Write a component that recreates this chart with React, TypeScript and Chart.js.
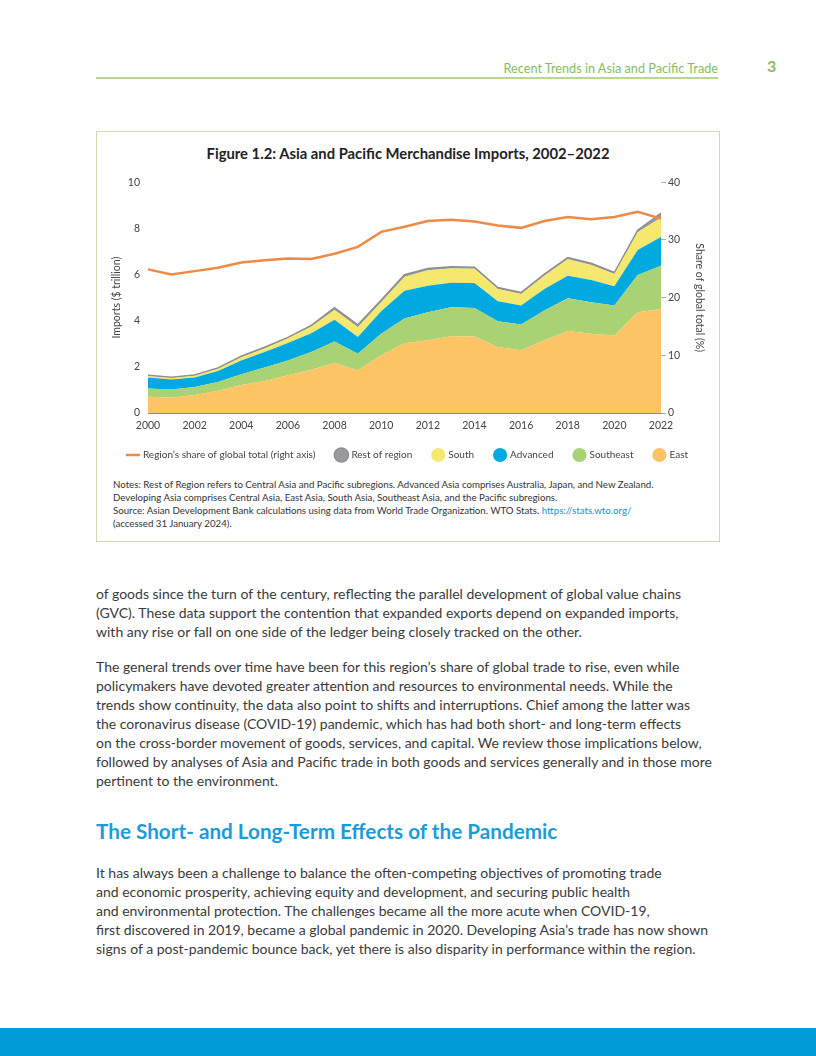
import React, { useEffect, useRef } from "react";
import { Chart, registerables } from "chart.js";

Chart.register(...registerables);

const years = ["2000","2001","2002","2003","2004","2005","2006","2007","2008","2009","2010","2011","2012","2013","2014","2015","2016","2017","2018","2019","2020","2021","2022"];

// $ trillion (stacked components)
const east = [0.70,0.66,0.78,0.96,1.21,1.39,1.64,1.88,2.17,1.85,2.50,3.02,3.15,3.33,3.32,2.86,2.72,3.15,3.55,3.43,3.36,4.37,4.51];
const southeast = [0.36,0.36,0.35,0.38,0.47,0.58,0.64,0.76,0.93,0.72,0.93,1.08,1.22,1.25,1.23,1.12,1.12,1.29,1.42,1.37,1.30,1.61,1.87];
const advanced = [0.48,0.43,0.41,0.48,0.60,0.67,0.75,0.82,0.94,0.72,0.98,1.20,1.15,1.07,1.08,0.86,0.82,0.93,0.98,0.96,0.83,1.09,1.25];
const south = [0.06,0.07,0.08,0.10,0.14,0.16,0.21,0.28,0.43,0.43,0.39,0.60,0.67,0.61,0.62,0.53,0.50,0.58,0.71,0.65,0.53,0.77,0.83];
const restOfRegion = [0.04,0.03,0.03,0.03,0.04,0.05,0.04,0.06,0.09,0.10,0.10,0.10,0.07,0.08,0.07,0.07,0.06,0.07,0.08,0.08,0.07,0.08,0.20];
// % of global total (right axis)
const globalShare = [24.9,24.0,24.6,25.2,26.1,26.5,26.8,26.7,27.6,28.8,31.4,32.3,33.3,33.5,33.2,32.5,32.1,33.3,34.0,33.6,34.0,34.9,33.7];

const leftTicks = [0, 2, 4, 6, 8, 10];
const rightTicks = [0, 10, 20, 30, 40];

const FONT = "Lato, 'Open Sans', sans-serif";

function ImportsChart() {
  const ref = useRef<HTMLCanvasElement | null>(null);
  useEffect(() => {
    if (!ref.current) return;
    const legendRank: Record<number, number> = { 5: 0, 4: 1, 3: 2, 2: 3, 1: 4, 0: 5 };
    const chart = new Chart(ref.current, {
      type: "line",
      data: {
        labels: years,
        datasets: [
          { label: "East", data: east, backgroundColor: "#fcc465", borderWidth: 0, fill: "origin", pointRadius: 0, order: 1, yAxisID: "y", pointStyle: "circle" },
          { label: "Southeast", data: southeast, backgroundColor: "#a9d275", borderWidth: 0, fill: "-1", pointRadius: 0, order: 1, yAxisID: "y", pointStyle: "circle" },
          { label: "Advanced", data: advanced, backgroundColor: "#00a9df", borderWidth: 0, fill: "-1", pointRadius: 0, order: 1, yAxisID: "y", pointStyle: "circle" },
          { label: "South", data: south, backgroundColor: "#f5e86e", borderWidth: 0, fill: "-1", pointRadius: 0, order: 1, yAxisID: "y", pointStyle: "circle" },
          { label: "Rest of region", data: restOfRegion, backgroundColor: "#9a9a9c", borderColor: "#8e8f92", borderWidth: 1.5, fill: "-1", pointRadius: 0, order: 1, yAxisID: "y", pointStyle: "circle" },
          { label: "Region\u2019s share of global total (right axis)", data: globalShare, borderColor: "#ef8a45", backgroundColor: "#ef8a45", borderWidth: 2.5, fill: false, pointRadius: 0, order: 0, yAxisID: "y1", pointStyle: "line" },
        ],
      },
      options: {
        responsive: false,
        animation: false,
        layout: { padding: { top: 13, left: 6, right: 6, bottom: 0 } },
        plugins: {
          tooltip: { enabled: false },
          legend: {
            position: "bottom",
            labels: {
              usePointStyle: true,
              font: { family: FONT, size: 10 },
              color: "#444",
              padding: 21,
              sort: (a: any, b: any) => legendRank[a.datasetIndex] - legendRank[b.datasetIndex],
            },
          },
        },
        scales: {
          x: {
            type: "category",
            offset: false,
            grid: { display: false, drawTicks: false },
            border: { display: true, color: "#8a8a8a", width: 1 },
            ticks: {
              autoSkip: false,
              maxRotation: 0,
              padding: 6,
              color: "#444",
              font: { family: FONT, size: 10.5 },
              callback: (_v: any, i: number) => (i % 2 === 0 ? years[i] : ""),
            },
            afterFit: (s: any) => { s.height = 16; },
          },
          y: {
            type: "linear",
            position: "left",
            stacked: true,
            min: 0,
            max: 10,
            afterBuildTicks: (s: any) => { s.ticks = leftTicks.map((v) => ({ value: v })); },
            grid: { display: false, drawTicks: false },
            border: { display: false },
            ticks: { padding: 8, color: "#444", font: { family: FONT, size: 10.5 } },
            title: { display: true, text: "Imports ($ trillion)", color: "#444", font: { family: FONT, size: 10.5 }, padding: { top: 4, bottom: 4 } },
            afterFit: (s: any) => { s.width = 42; },
          },
          y1: {
            type: "linear",
            position: "right",
            min: 0,
            max: 40,
            afterBuildTicks: (s: any) => { s.ticks = rightTicks.map((v) => ({ value: v })); },
            grid: { display: true, drawOnChartArea: false, drawTicks: true, tickLength: 5, color: "#b0b0b0" },
            border: { display: false },
            ticks: { padding: 2, color: "#444", font: { family: FONT, size: 10.5 } },
            title: { display: true, text: "Share of global total (%)", color: "#444", font: { family: FONT, size: 10.5 }, padding: { top: 4, bottom: 4 } },
            afterFit: (s: any) => { s.width = 49; },
          },
        },
      },
    } as any);
    return () => chart.destroy();
  }, []);
  return <canvas ref={ref} width={616} height={302} style={{ position: "absolute", left: 100, top: 168, width: 616, height: 302 }} />;
}

const para1 = [
  "of goods since the turn of the century, reflecting the parallel development of global value chains",
  "(GVC). These data support the contention that expanded exports depend on expanded imports,",
  "with any rise or fall on one side of the ledger being closely tracked on the other.",
];
const para2 = [
  "The general trends over time have been for this region\u2019s share of global trade to rise, even while",
  "policymakers have devoted greater attention and resources to environmental needs. While the",
  "trends show continuity, the data also point to shifts and interruptions. Chief among the latter was",
  "the coronavirus disease (COVID-19) pandemic, which has had both short- and long-term effects",
  "on the cross-border movement of goods, services, and capital. We review those implications below,",
  "followed by analyses of Asia and Pacific trade in both goods and services generally and in those more",
  "pertinent to the environment.",
];
const para3 = [
  "It has always been a challenge to balance the often-competing objectives of promoting trade",
  "and economic prosperity, achieving equity and development, and securing public health",
  "and environmental protection. The challenges became all the more acute when COVID-19,",
  "first discovered in 2019, became a global pandemic in 2020. Developing Asia\u2019s trade has now shown",
  "signs of a post-pandemic bounce back, yet there is also disparity in performance within the region.",
];

function Para({ lines, top }: { lines: string[]; top: number }) {
  return (
    <div style={{ position: "absolute", left: 96, top, fontSize: 14, lineHeight: "19px", color: "#3a3a3a", whiteSpace: "nowrap" }}>
      {lines.map((l, i) => (<div key={i}>{l}</div>))}
    </div>
  );
}

export default function App() {
  return (
    <div style={{ position: "absolute", left: 0, top: 0, width: 816, height: 1056, background: "#fff", fontFamily: FONT, overflow: "hidden" }}>
      <div style={{ position: "absolute", right: 98, top: 60, fontSize: 12.7, color: "#86bd62", whiteSpace: "nowrap" }}>Recent Trends in Asia and Pacific Trade</div>
      <div style={{ position: "absolute", left: 767, top: 56, fontSize: 16, fontWeight: 700, color: "#86bd62" }}>3</div>
      <div style={{ position: "absolute", left: 96, top: 77, width: 622, height: 2, background: "#b9d698" }} />

      <div style={{ position: "absolute", left: 96, top: 131, width: 622, height: 409, border: "1px solid #c9dfae" }} />
      <div style={{ position: "absolute", left: 96, top: 144, width: 624, textAlign: "center", fontSize: 14.8, fontWeight: 700, color: "#222", whiteSpace: "nowrap" }}>
        Figure 1.2: Asia and Pacific Merchandise Imports, 2002–2022
      </div>
      <ImportsChart />
      <div style={{ position: "absolute", left: 113, top: 478, fontSize: 9.7, lineHeight: "13px", color: "#333", whiteSpace: "nowrap" }}>
        <div>Notes: Rest of Region refers to Central Asia and Pacific subregions. Advanced Asia comprises Australia, Japan, and New Zealand.</div>
        <div>Developing Asia comprises Central Asia, East Asia, South Asia, Southeast Asia, and the Pacific subregions.</div>
        <div>Source: Asian Development Bank calculations using data from World Trade Organization. WTO Stats. <span style={{ color: "#1a8fc9" }}>https://stats.wto.org/</span></div>
        <div>(accessed 31 January 2024).</div>
      </div>

      <Para lines={para1} top={584} />
      <Para lines={para2} top={657} />
      <div style={{ position: "absolute", left: 96, top: 819, fontSize: 20.7, fontWeight: 700, color: "#1b9cd8", whiteSpace: "nowrap" }}>
        The Short- and Long-Term Effects of the Pandemic
      </div>
      <Para lines={para3} top={863} />

      <div style={{ position: "absolute", left: 0, top: 1028, width: 816, height: 28, background: "#009cd7" }} />
    </div>
  );
}
